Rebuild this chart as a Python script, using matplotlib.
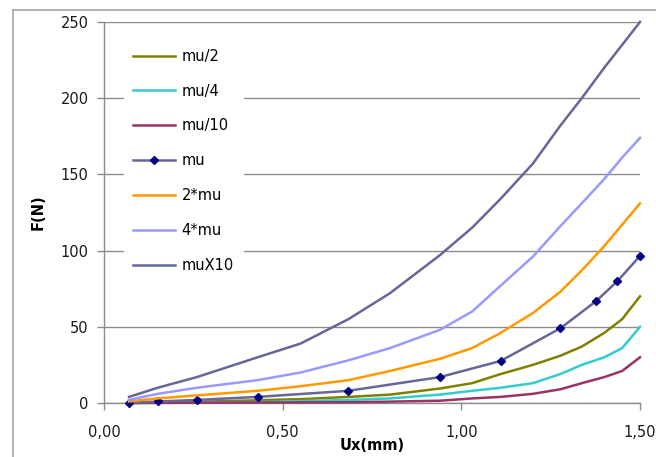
import matplotlib
matplotlib.use("Agg")
import matplotlib.pyplot as plt
from matplotlib.ticker import FuncFormatter, MultipleLocator
from matplotlib.lines import Line2D

# Data
x_common = [0.07, 0.15, 0.26, 0.43, 0.55, 0.684, 0.80, 0.94, 1.03, 1.11, 1.20, 1.277, 1.337, 1.40, 1.45, 1.50]
mu_2 = [0, 0.3, 0.8, 1.8, 2.5, 4, 5.5, 9.5, 13, 19, 25, 31, 37, 46, 55, 70]
mu_4 = [0, 0.2, 0.4, 0.6, 1.2, 2, 3, 5.5, 8, 10, 13, 19, 25, 30, 36, 50]
mu_10 = [0, 0.1, 0.2, 0.3, 0.4, 0.5, 0.9, 1.5, 3, 4, 6, 9, 13, 17, 21, 30]
mu2x = [1, 3, 5, 8, 11, 15, 21, 29, 36, 46, 59, 73, 87, 103, 117, 131]
mu4x = [2, 6, 10, 15, 20, 28, 36, 48, 60, 77, 96, 116, 131, 147, 161, 174]
mu10x = [4, 10, 17, 30, 39, 55, 72, 97, 115, 134, 157, 182, 200, 220, 235, 250]

x_mu = [0.07, 0.15, 0.26, 0.43, 0.684, 0.94, 1.11, 1.277, 1.378, 1.437, 1.50]
mu = [0, 1, 2, 4, 8, 17, 27.6, 49, 67, 80, 96.5]

labels = ["mu/2", "mu/4", "mu/10", "mu", "2*mu", "4*mu", "muX10"]

fig = plt.figure(figsize=(6.56, 4.57), dpi=100)
plt.rcParams['font.family'] = ['DejaVu Sans']
W, H = 656, 457
ax = fig.add_axes([104 / W, 1 - 403 / H, (640 - 104) / W, (403 - 22) / H])

lw = 1.8
kw = dict(lw=lw, clip_on=False, zorder=3)
ax.plot(x_common, mu_2, color="#808000", label=labels[0], **kw)
ax.plot(x_common, mu_4, color="#33CCCC", label=labels[1], **kw)
ax.plot(x_common, mu_10, color="#993366", label=labels[2], **kw)
ax.plot(x_mu, mu, color="#666699", marker="D", markersize=4.5, markerfacecolor="#000080",
        markeredgecolor="#000080", label=labels[3], **kw)
ax.plot(x_common, mu2x, color="#FF9900", label=labels[4], **kw)
ax.plot(x_common, mu4x, color="#9999FF", label=labels[5], **kw)
ax.plot(x_common, mu10x, color="#666699", label=labels[6], **kw)

ax.set_xlim(0, 1.5)
ax.set_ylim(0, 250)
ax.xaxis.set_major_locator(MultipleLocator(0.5))
ax.yaxis.set_major_locator(MultipleLocator(50))
ax.xaxis.set_major_formatter(FuncFormatter(lambda v, p: f"{v:.2f}".replace('.', ',')))
ax.yaxis.set_major_formatter(FuncFormatter(lambda v, p: f"{v:.0f}"))

gray = "#8c8c8c"
ax.grid(axis='y', color=gray, lw=1.0, zorder=0)
ax.set_axisbelow(True)
for s in ["top", "right"]:
    ax.spines[s].set_visible(False)
for s in ["left", "bottom"]:
    ax.spines[s].set_color(gray)
    ax.spines[s].set_linewidth(1.0)
ax.tick_params(axis='y', direction='out', length=5, width=1, color=gray, pad=6, labelsize=10.5, labelcolor="#1a1a1a")
ax.tick_params(axis='x', direction='out', length=5, width=1, color=gray, pad=11, labelsize=10.5, labelcolor="#1a1a1a")

ax.set_ylabel("F(N)", fontweight='bold', fontsize=10.5, labelpad=10.5)
ax.set_xlabel("Ux(mm)", fontweight='bold', fontsize=10.5, labelpad=-1.5)

leg = ax.legend(loc='upper left', bbox_to_anchor=(20 / 536, 1 - 18 / 381), frameon=True,
                fontsize=10.5, handlelength=2.9, handletextpad=0.45, labelspacing=1.36,
                borderpad=0.6, borderaxespad=0)
leg.get_frame().set_edgecolor('white')
leg.get_frame().set_facecolor('white')
leg.get_frame().set_alpha(1)
leg.set_zorder(5)

# outer chart border
bc = "#a6a6a6"
fig.add_artist(Line2D([13 / W, 13 / W], [0, 1 - 10 / H], color=bc, lw=1.2, transform=fig.transFigure))
fig.add_artist(Line2D([13 / W, 1], [1 - 10 / H, 1 - 10 / H], color=bc, lw=1.2, transform=fig.transFigure))

fig.savefig("out.png", dpi=100)
